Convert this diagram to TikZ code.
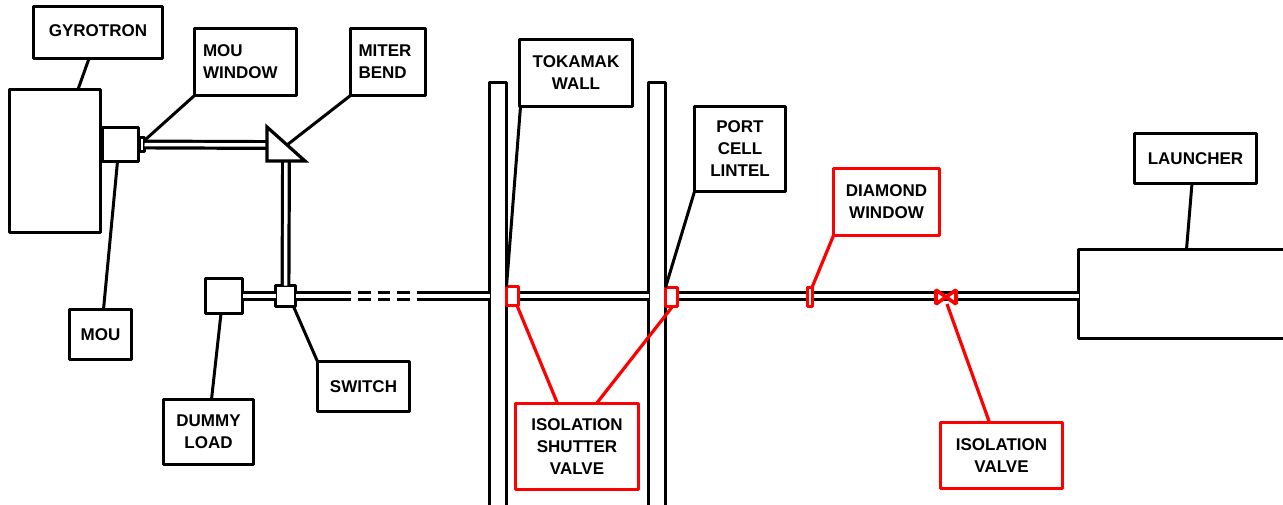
\documentclass[tikz,border=0pt]{standalone}
\usepackage{fontspec}
\setmainfont{Liberation Sans}
\definecolor{vred}{RGB}{255,0,0}
\tikzset{
  blk/.style={draw=black,fill=white,line width=3.2pt,line join=round,inner sep=0pt,outer sep=0pt,align=center,
    font=\fontsize{17}{22}\selectfont\bfseries},
  redbox/.style={blk,draw=vred},
  conn/.style={draw=black,line width=3pt},
  redconn/.style={draw=vred,line width=3.2pt},
  pipe/.style={draw=black,line width=3.2pt,double=white,double distance=3.5pt},
  leftbox/.style={blk,align=left},
}
\newcommand{\boxn}[7]{%
  \pgfmathsetmacro{\cxx}{(#3+#5)/2}\pgfmathsetmacro{\cyy}{(#4+#6)/2}%
  \pgfmathsetmacro{\wdd}{#5-#3-3}\pgfmathsetmacro{\htt}{#6-#4-3}%
  \node[#1,minimum width=\wdd pt,minimum height=\htt pt] (#2) at (\cxx,\cyy) {#7};}
\begin{document}
\begin{tikzpicture}[x=1pt,y=-1pt]
\useasboundingbox (0,0) rectangle (1283,504);
\clip (0,0) rectangle (1283,504);
% equipment
\boxn{blk}{gyro}{8}{88}{102}{234}{}
\boxn{blk}{launch}{1077}{248}{1290}{340}{}
\boxn{blk}{mou}{101}{126}{140}{163}{}
\boxn{blk}{dummy}{204}{277}{244}{315}{}
\coordinate (dash1) at (351,296);
\coordinate (dash2) at (417,296);
\coordinate (dash0) at (358,296);
% walls, window, switch
\boxn{blk}{wallA}{488}{81}{508}{520}{}
\boxn{blk}{wallB}{647}{81}{667}{520}{}
\boxn{blk}{mouwin}{138}{136}{146}{153}{}
\boxn{blk}{switch}{274}{284}{297}{308}{}
\coordinate (mitL) at (267,145);
\coordinate (mitB) at (286,161);
\coordinate (mitT) at (267,127);
\coordinate (mitC) at (267,161);
\coordinate (mitR) at (305,161);
\coordinate (mitH) at (287,145);
% pipes
\draw[pipe] (mouwin.east) -- (mitL);
\draw[pipe] (mitB) -- (switch.north);
\draw[pipe] (dummy.east) -- (switch.west);
\draw[pipe] (switch.east) -- (dash1);
\draw[pipe,dash pattern=on 12.5pt off 7pt] (dash0) -- (dash2);
\draw[pipe] (dash2) -- (wallA.west |- dash2);
\draw[pipe] (wallA.east |- dash2) -- (wallB.west |- dash2);
\draw[pipe] (wallB.east |- dash2) -- (launch.west |- dash2);
\draw[blk,line join=miter] (mitT) -- (mitC) -- (mitR) -- cycle;
% labels
\boxn{blk,text depth=3.5pt}{lgyro}{32}{5}{164}{60}{GYROTRON}
\boxn{leftbox,text width=85pt,inner xsep=8.5pt}{lmouwin}{193}{27}{298}{97}{MOU\\WINDOW}
\boxn{leftbox,text width=59pt,inner xsep=8pt}{lmiter}{349}{27}{427}{97}{MITER\\BEND}
\boxn{blk,text depth=1pt}{lwall}{518}{38}{634}{108}{TOKAMAK\\WALL}
\boxn{blk}{lport}{693}{105}{787}{193}{PORT\\CELL\\LINTEL}
\boxn{redbox}{ldiam}{832}{167}{941}{237}{DIAMOND\\WINDOW}
\boxn{blk}{llaunch}{1133}{132}{1258}{185}{LAUNCHER}
\boxn{blk}{lmou}{68}{308}{133}{361}{MOU}
\boxn{blk}{lswitch}{316}{360}{411}{413}{SWITCH}
\boxn{blk}{ldummy}{162}{398}{255}{466}{DUMMY\\LOAD}
\boxn{redbox}{lshut}{514}{402}{640}{491}{ISOLATION\\SHUTTER\\VALVE}
\boxn{redbox}{lvalve}{939}{421}{1064}{490}{ISOLATION\\VALVE}
% black leaders
\draw[conn] ([xshift=-9pt]lgyro.south) -- ([xshift=23pt]gyro.north);
\draw[conn] (lmouwin.south west) -- ([shift={(1,2)}]mouwin.north east);
\draw[conn] (lmiter.south west) -- (mitH);
\draw[conn] ([xshift=-3pt]mou.south) -- ([xshift=3pt]lmou.north);
\draw[conn] ([xshift=-3pt]dummy.south) -- ([xshift=3pt]ldummy.north);
\draw[conn] ([xshift=-2pt]switch.south east) -- (lswitch.north west);
\draw[conn] ([xshift=-3.5pt]llaunch.south) -- ([xshift=3pt]launch.north);
% red devices
\boxn{redbox}{shutA}{505}{285}{520}{307}{}
\boxn{redbox}{shutB}{664}{286}{679}{308}{}
\boxn{redbox}{dwin}{806}{286}{814}{308}{}
\node[minimum width=20pt,minimum height=14pt,inner sep=0pt,outer sep=0pt] (valve) at (946,297) {};
\draw[redconn,fill=white,line width=3.6pt,line join=miter,miter limit=2] (valve.north west) -- (valve.south west) -- (valve.north east) -- (valve.south east) -- cycle;
\draw[conn] ([xshift=1pt]lwall.south west) -- (shutA.north west);
\draw[conn] (lport.south west) -- (shutB.north west);
\draw[redconn] ([xshift=4.5pt]shutA.south) -- ([xshift=-19.5pt]lshut.north);
\draw[redconn] ([xshift=1pt]shutB.south) -- ([xshift=19.5pt]lshut.north);
\draw[redconn] (ldiam.south west) -- ([xshift=2pt]dwin.north);
\draw[redconn] ([xshift=1pt]valve.south) -- ([xshift=-12pt]lvalve.north);
\end{tikzpicture}
\end{document}
